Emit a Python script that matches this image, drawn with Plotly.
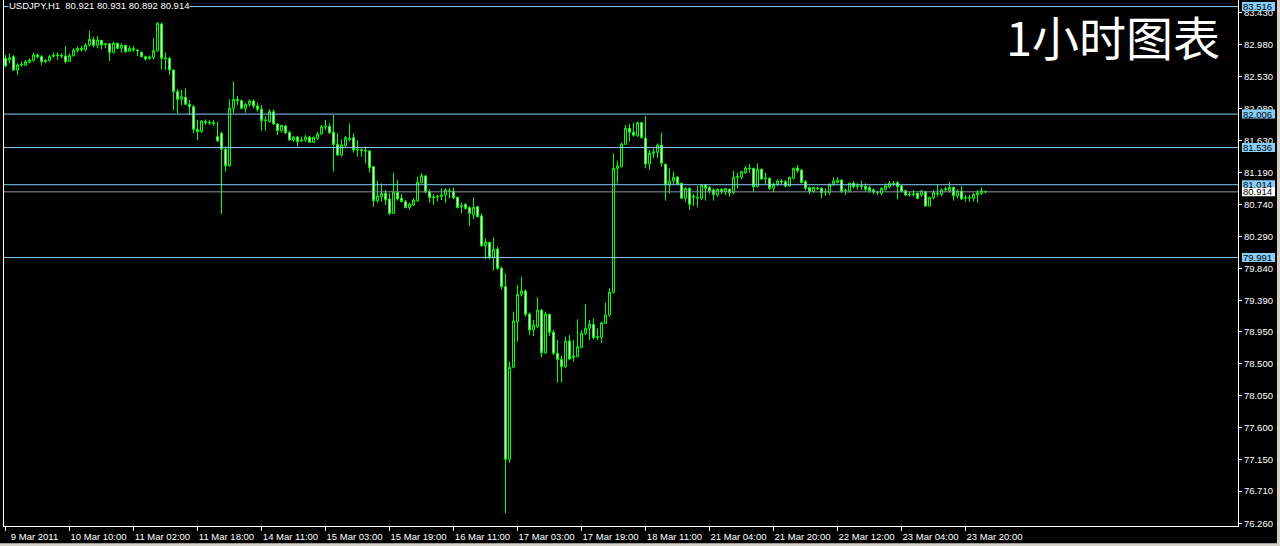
import plotly.graph_objects as go

# ---------------- data (USDJPY, H1) ----------------
time_labels = ["9 Mar 2011", "10 Mar 10:00", "11 Mar 02:00", "11 Mar 18:00", "14 Mar 11:00",
               "15 Mar 03:00", "15 Mar 19:00", "16 Mar 11:00", "17 Mar 03:00", "17 Mar 19:00",
               "18 Mar 11:00", "21 Mar 04:00", "21 Mar 20:00", "22 Mar 12:00", "23 Mar 04:00",
               "23 Mar 20:00"]
label_bars = [0, 16, 32, 48, 64, 80, 96, 112, 128, 144, 160, 176, 192, 208, 224, 240]

open_ = [
    82.789, 82.766, 82.813, 82.625, 82.695, 82.691, 82.733, 82.761, 82.836, 82.813,
    82.742, 82.761, 82.817, 82.836, 82.831, 82.822, 82.747, 82.827, 82.901, 82.930,
    82.911, 82.976, 83.051, 82.972, 83.042, 82.981, 82.995, 82.873, 83.000, 82.930,
    82.972, 82.887, 82.925, 82.906, 82.873, 82.813, 82.784, 82.803, 82.897, 83.271,
    82.784, 82.789, 82.625, 82.321, 82.213, 82.241, 82.143, 82.110, 81.792, 81.759,
    81.900, 81.890, 81.885, 81.689, 81.736, 81.511, 81.281, 82.087, 82.213, 82.194,
    82.087, 82.143, 82.190, 82.120, 82.073, 81.914, 81.900, 82.040, 81.867, 81.773,
    81.839, 81.745, 81.642, 81.684, 81.628, 81.642, 81.684, 81.609, 81.665, 81.726,
    81.829, 81.834, 81.750, 81.581, 81.431, 81.563, 81.666, 81.675, 81.502, 81.506,
    81.497, 81.488, 81.268, 80.790, 80.846, 80.893, 80.813, 80.612, 80.907, 80.823,
    80.776, 80.692, 80.729, 80.790, 81.043, 81.137, 80.916, 80.832, 80.842, 80.851,
    80.870, 80.930, 80.926, 80.837, 80.706, 80.739, 80.692, 80.589, 80.706, 80.575,
    80.158, 80.205, 79.994, 80.111, 79.840, 79.582, 77.157, 78.449, 79.090, 79.474,
    79.521, 79.198, 78.973, 79.020, 79.254, 78.655, 79.193, 78.941, 78.646, 78.561,
    78.458, 78.819, 78.589, 78.599, 78.730, 78.927, 78.997, 79.053, 78.870, 78.870,
    79.067, 79.184, 79.502, 81.244, 81.268, 81.581, 81.806, 81.750, 81.698, 81.886,
    81.666, 81.305, 81.455, 81.469, 81.572, 81.300, 81.010, 81.066, 81.118, 81.034,
    80.823, 80.963, 80.837, 80.837, 80.823, 81.010, 80.973, 80.940, 80.870, 80.949,
    80.916, 80.949, 80.902, 81.118, 81.118, 81.183, 81.249, 81.244, 80.987, 81.230,
    81.104, 81.104, 80.963, 81.019, 81.066, 81.057, 80.996, 81.104, 81.249, 81.221,
    81.057, 80.973, 80.916, 80.963, 80.963, 80.916, 80.902, 81.019, 81.048, 81.080,
    80.930, 80.926, 81.034, 80.991, 81.001, 80.991, 80.973, 80.940, 80.912, 80.893,
    80.949, 80.987, 81.034, 81.043, 80.996, 80.930, 80.879, 80.874, 80.893, 80.870,
    80.916, 80.715, 80.832, 80.893, 80.879, 80.945, 80.926, 80.977, 80.860, 80.926,
    80.828, 80.832, 80.823, 80.870, 80.893, 80.921]

high_ = [
    82.836, 82.859, 82.836, 82.719, 82.742, 82.766, 82.789, 82.869, 82.859, 82.836,
    82.775, 82.836, 82.869, 82.873, 82.859, 82.962, 82.859, 82.930, 82.953, 82.962,
    83.000, 83.178, 83.093, 83.103, 83.047, 83.004, 83.000, 83.023, 83.009, 83.000,
    82.976, 82.962, 82.967, 82.920, 82.883, 82.827, 82.831, 83.075, 83.295, 83.290,
    82.869, 82.813, 82.635, 82.358, 82.344, 82.368, 82.204, 82.134, 81.923, 81.923,
    81.932, 81.923, 81.923, 81.900, 81.759, 81.548, 82.213, 82.461, 82.260, 82.213,
    82.166, 82.213, 82.213, 82.166, 82.134, 81.979, 82.073, 82.073, 81.876, 81.853,
    81.853, 81.773, 81.698, 81.698, 81.689, 81.712, 81.698, 81.689, 81.759, 81.853,
    81.923, 81.876, 81.993, 81.736, 81.652, 81.698, 81.876, 81.736, 81.642, 81.525,
    81.549, 81.502, 81.277, 81.071, 81.034, 80.940, 80.893, 81.183, 81.080, 80.884,
    80.799, 80.762, 80.823, 81.127, 81.174, 81.151, 80.949, 80.879, 80.870, 80.963,
    80.963, 80.963, 80.977, 80.846, 80.762, 80.753, 80.715, 80.837, 80.715, 80.612,
    80.261, 80.214, 80.275, 80.144, 79.863, 79.769, 78.529, 79.231, 79.605, 79.723,
    79.545, 79.217, 79.114, 79.432, 79.264, 79.231, 79.208, 78.973, 78.833, 78.608,
    78.880, 78.903, 78.833, 79.123, 78.973, 79.339, 79.114, 79.137, 78.997, 79.090,
    79.357, 79.559, 81.455, 81.352, 81.605, 81.853, 81.867, 81.886, 81.900, 81.900,
    81.979, 81.502, 81.525, 81.595, 81.745, 81.314, 81.244, 81.197, 81.137, 81.043,
    80.977, 80.977, 80.884, 80.996, 81.019, 81.024, 80.996, 80.963, 80.963, 80.963,
    80.973, 80.963, 81.211, 81.183, 81.211, 81.277, 81.305, 81.254, 81.314, 81.244,
    81.183, 81.118, 81.043, 81.090, 81.094, 81.080, 81.127, 81.254, 81.291, 81.230,
    81.080, 80.987, 80.987, 80.987, 80.977, 80.963, 81.034, 81.118, 81.118, 81.090,
    80.963, 81.043, 81.066, 81.034, 81.071, 81.034, 80.996, 80.963, 80.930, 80.977,
    81.034, 81.066, 81.066, 81.066, 81.010, 80.949, 80.916, 80.940, 80.902, 80.940,
    80.930, 80.846, 80.940, 81.019, 80.963, 80.987, 81.057, 80.987, 80.949, 80.996,
    80.870, 80.870, 80.893, 80.940, 80.977, 80.931]

low_ = [
    82.663, 82.719, 82.611, 82.555, 82.672, 82.681, 82.719, 82.742, 82.789, 82.695,
    82.719, 82.742, 82.803, 82.766, 82.789, 82.719, 82.742, 82.813, 82.869, 82.883,
    82.883, 82.953, 82.944, 82.930, 82.916, 82.930, 82.752, 82.859, 82.916, 82.869,
    82.869, 82.883, 82.883, 82.822, 82.803, 82.756, 82.775, 82.775, 82.883, 82.635,
    82.625, 82.555, 82.063, 82.017, 82.134, 82.134, 81.993, 81.736, 81.642, 81.745,
    81.853, 81.853, 81.839, 81.619, 80.603, 81.197, 81.267, 82.017, 82.134, 82.073,
    82.026, 82.110, 82.087, 82.040, 81.773, 81.773, 81.885, 81.853, 81.712, 81.745,
    81.726, 81.633, 81.619, 81.548, 81.619, 81.619, 81.605, 81.605, 81.642, 81.712,
    81.782, 81.726, 81.197, 81.417, 81.408, 81.549, 81.619, 81.464, 81.408, 81.408,
    81.314, 81.183, 80.706, 80.762, 80.776, 80.729, 80.589, 80.603, 80.790, 80.767,
    80.682, 80.659, 80.715, 80.776, 81.034, 80.893, 80.762, 80.729, 80.776, 80.799,
    80.762, 80.823, 80.809, 80.682, 80.612, 80.659, 80.434, 80.528, 80.556, 80.144,
    79.966, 79.966, 79.807, 79.816, 79.545, 76.398, 77.110, 78.435, 78.810, 79.442,
    79.161, 78.903, 78.889, 78.997, 78.589, 78.636, 78.889, 78.622, 78.234, 78.234,
    78.435, 78.552, 78.529, 78.589, 78.716, 78.903, 78.833, 78.842, 78.833, 78.796,
    79.058, 79.161, 79.488, 81.034, 81.258, 81.572, 81.619, 81.689, 81.689, 81.666,
    81.244, 81.221, 81.385, 81.385, 81.268, 80.790, 80.893, 81.010, 81.010, 80.813,
    80.776, 80.659, 80.715, 80.696, 80.799, 80.790, 80.893, 80.790, 80.846, 80.884,
    80.870, 80.846, 80.884, 80.963, 81.094, 81.165, 81.183, 80.916, 80.977, 81.080,
    81.024, 80.940, 80.907, 80.996, 81.024, 80.977, 80.987, 81.090, 81.183, 81.034,
    80.940, 80.884, 80.902, 80.940, 80.823, 80.856, 80.870, 80.996, 81.034, 80.902,
    80.870, 80.902, 80.963, 80.949, 80.940, 80.916, 80.902, 80.879, 80.870, 80.870,
    80.930, 80.963, 80.996, 80.809, 80.907, 80.856, 80.846, 80.846, 80.809, 80.846,
    80.706, 80.706, 80.809, 80.846, 80.856, 80.916, 80.902, 80.790, 80.823, 80.799,
    80.776, 80.776, 80.776, 80.762, 80.870, 80.892]

close_ = [
    82.681, 82.798, 82.625, 82.695, 82.700, 82.742, 82.766, 82.836, 82.813, 82.742,
    82.761, 82.813, 82.836, 82.831, 82.822, 82.742, 82.827, 82.906, 82.930, 82.911,
    82.976, 83.056, 82.972, 83.047, 82.976, 82.995, 82.873, 83.000, 82.930, 82.976,
    82.883, 82.930, 82.911, 82.897, 82.813, 82.780, 82.808, 82.897, 83.281, 82.789,
    82.794, 82.625, 82.321, 82.213, 82.251, 82.143, 82.110, 81.792, 81.759, 81.909,
    81.890, 81.885, 81.876, 81.628, 81.511, 81.281, 82.087, 82.213, 82.194, 82.087,
    82.143, 82.190, 82.120, 82.073, 81.914, 81.923, 82.040, 81.867, 81.773, 81.848,
    81.745, 81.642, 81.684, 81.619, 81.642, 81.684, 81.609, 81.679, 81.726, 81.829,
    81.834, 81.745, 81.581, 81.431, 81.572, 81.675, 81.652, 81.502, 81.506, 81.497,
    81.488, 81.254, 80.790, 80.856, 80.893, 80.799, 80.612, 80.907, 80.813, 80.776,
    80.692, 80.743, 80.799, 81.048, 81.141, 80.916, 80.832, 80.842, 80.851, 80.870,
    80.940, 80.921, 80.832, 80.692, 80.720, 80.682, 80.612, 80.696, 80.565, 80.158,
    80.209, 79.994, 80.106, 79.840, 79.582, 77.157, 78.449, 79.100, 79.474, 79.521,
    79.193, 78.973, 79.044, 79.254, 78.655, 79.193, 78.941, 78.646, 78.561, 78.458,
    78.819, 78.566, 78.608, 78.739, 78.927, 78.997, 79.053, 78.866, 78.880, 79.076,
    79.184, 79.502, 81.244, 81.277, 81.586, 81.806, 81.750, 81.708, 81.886, 81.675,
    81.305, 81.455, 81.478, 81.572, 81.314, 81.010, 81.066, 81.118, 81.024, 80.823,
    80.963, 80.739, 80.851, 80.828, 81.010, 80.963, 80.930, 80.879, 80.949, 80.916,
    80.959, 80.902, 81.118, 81.132, 81.197, 81.249, 81.240, 80.987, 81.230, 81.094,
    81.108, 80.963, 81.019, 81.066, 81.052, 80.996, 81.118, 81.244, 81.211, 81.043,
    80.963, 80.916, 80.977, 80.959, 80.902, 80.912, 81.019, 81.066, 81.080, 80.916,
    80.935, 81.034, 80.987, 81.001, 80.991, 80.949, 80.930, 80.912, 80.907, 80.963,
    80.996, 81.034, 81.029, 80.987, 80.916, 80.870, 80.874, 80.884, 80.823, 80.926,
    80.715, 80.832, 80.902, 80.888, 80.940, 80.954, 80.977, 80.860, 80.926, 80.813,
    80.832, 80.828, 80.879, 80.902, 80.930, 80.914]

price_ticks = [83.430, 82.980, 82.530, 82.080, 81.630, 81.190, 80.740, 80.290, 79.840,
               79.390, 78.950, 78.500, 78.050, 77.600, 77.150, 76.710, 76.260]
hline_levels = [83.516, 82.006, 81.536, 81.014, 79.991]
bid_level = 80.914
symbol_text = "USDJPY,H1  80.921 80.931 80.892 80.914"
title_text = "1小时图表"

# ---------------- figure ----------------
bars = list(range(len(open_)))
LIME = "#00FF00"
FAM = "Liberation Sans, Arial, sans-serif"
FS = 9.5
AXFONT = dict(family=FAM, size=FS, color="white")
BOX_HALF = 0.063   # half height of the price-label boxes, in price units (~4.5 px)
BOX_X0, BOX_X1 = 1.0032, 1.0300

fig = go.Figure()
fig.add_trace(go.Candlestick(
    x=bars, open=open_, high=high_, low=low_, close=close_,
    increasing=dict(line=dict(color=LIME, width=1), fillcolor="black"),
    decreasing=dict(line=dict(color=LIME, width=1), fillcolor="white"),
    whiskerwidth=0, hoverinfo="skip", showlegend=False,
))

shapes = []
for lv in hline_levels:
    shapes.append(dict(type="line", xref="paper", x0=0, x1=1, yref="y", y0=lv, y1=lv,
                       line=dict(color="#87CEFA", width=1), layer="above"))
    shapes.append(dict(type="rect", xref="paper", x0=BOX_X0, x1=BOX_X1, yref="y",
                       y0=lv - BOX_HALF, y1=lv + BOX_HALF, fillcolor="#87CEFA",
                       line=dict(width=0), layer="above"))
shapes.append(dict(type="line", xref="paper", x0=0, x1=1, yref="y", y0=bid_level, y1=bid_level,
                   line=dict(color="#8a96a3", width=1), layer="above"))
shapes.append(dict(type="rect", xref="paper", x0=BOX_X0, x1=BOX_X1, yref="y",
                   y0=bid_level - BOX_HALF, y1=bid_level + BOX_HALF, fillcolor="white",
                   line=dict(width=0), layer="above"))
# window chrome strips (bottom and right)
shapes.append(dict(type="rect", xref="paper", yref="paper", x0=-0.01, x1=1.04,
                   y0=-0.0387, y1=-0.0326, fillcolor="#d4d0c8", line=dict(width=0), layer="above"))
shapes.append(dict(type="rect", xref="paper", yref="paper", x0=1.0316, x1=1.04,
                   y0=-0.04, y1=1.01, fillcolor="#d4d0c8", line=dict(width=0), layer="above"))

annotations = []
for lv in hline_levels + [bid_level]:
    annotations.append(dict(xref="paper", x=BOX_X0, yref="y", y=lv, xanchor="left",
                            yanchor="middle", xshift=0, yshift=0, text=f"{lv:.3f}",
                            showarrow=False, borderpad=0,
                            font=dict(family=FAM, size=FS, color="black")))
annotations.append(dict(xref="paper", x=0, yref="paper", y=1, xanchor="left", yanchor="top",
                        xshift=4, yshift=1, text=symbol_text, showarrow=False, bgcolor="black",
                        borderpad=0, font=AXFONT))
annotations.append(dict(xref="paper", x=0.8987, yref="paper", y=0.933, xanchor="center",
                        yanchor="middle", text=title_text, showarrow=False,
                        font=dict(family="Noto Sans CJK SC", size=47, color="white")))

fig.update_layout(
    template="none",
    width=1280, height=546,
    margin=dict(l=4, r=42, t=0, b=20, pad=0),
    paper_bgcolor="black", plot_bgcolor="black",
    showlegend=False, boxgap=0.5, boxgroupgap=0,
    shapes=shapes, annotations=annotations,
    xaxis=dict(range=[-0.375, 308.125], tickmode="array", tickvals=label_bars,
               ticktext=time_labels, ticks="outside", ticklen=4, tickcolor="white",
               tickwidth=1, ticklabelshift=29, ticklabelstandoff=-2, tickfont=AXFONT,
               showgrid=False, zeroline=False, showline=True, linecolor="white", linewidth=1,
               rangeslider=dict(visible=False), automargin=False, fixedrange=True),
    yaxis=dict(range=[76.2208, 83.6085], side="right", tickmode="array", tickvals=price_ticks,
               ticktext=[f"{v:.3f}" for v in price_ticks],
               ticks="outside", ticklen=3, tickcolor="white", tickwidth=1, tickfont=AXFONT,
               showgrid=False, zeroline=False, showline=True, mirror=True, linecolor="white",
               linewidth=1, automargin=False, fixedrange=True),
)

fig.write_html("out.html", config={"displayModeBar": False},
               post_script="document.body.style.margin='0';document.body.style.background='black';")
